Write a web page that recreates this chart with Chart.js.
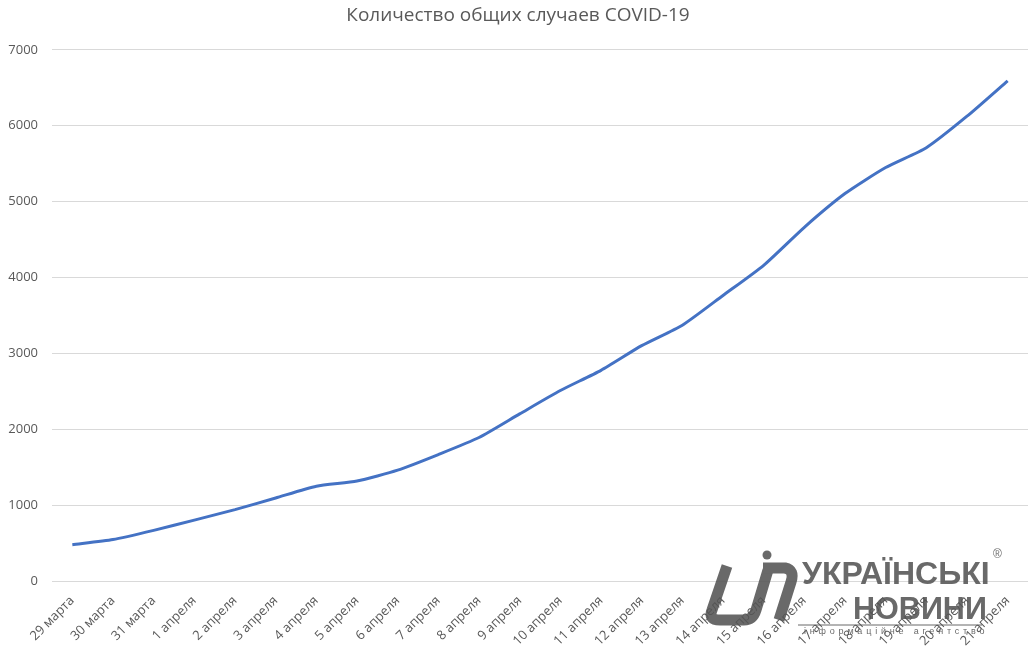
<!DOCTYPE html>
<html>
<head>
<meta charset="utf-8">
<script src="https://cdn.jsdelivr.net/npm/chart.js@4"></script>
<style>
  html, body { margin: 0; padding: 0; background: #fff; }
  #wrap { position: relative; width: 1032px; height: 654px; }
  #wm { position: absolute; left: 0; top: 0; width: 1032px; height: 654px; pointer-events: none; opacity: 0.88; }
  .wmt { position: absolute; color: #555; font-family: "Liberation Sans", Arial, sans-serif; font-weight: bold; transform-origin: left top; white-space: nowrap; }
</style>
</head>
<body>
<div id="wrap">
  <canvas id="lineChart" width="1032" height="654"></canvas>
  <div id="wm">
    <svg width="1032" height="654" style="position:absolute;left:0;top:0">
      <!-- логотип -->
      <path d="M727 566 L712 610 Q708 620 720 620 L744 620 Q753 620 756 610 L768 570" fill="none" stroke="#555" stroke-width="11" stroke-linejoin="round"/>
      <path d="M763 568 L785 568 Q795 570 791 582 L779 620" fill="none" stroke="#555" stroke-width="11" stroke-linejoin="round"/>
      <circle cx="767" cy="555" r="4.5" fill="#555"/>
      <line x1="798" y1="625" x2="982" y2="625" stroke="#555" stroke-width="1"/>
    </svg>
    <div class="wmt" style="left:802px;top:555px;font-size:32px">УКРАЇНСЬКІ</div>
    <div class="wmt" style="left:853px;top:590px;font-size:32px;transform:scaleX(0.955)">НОВИНИ</div>
    <div class="wmt" style="left:993px;top:547px;font-size:12px;font-weight:normal">®</div>
    <div class="wmt" style="left:804px;top:626px;font-size:9px;font-weight:normal;letter-spacing:3.8px">інформаційне агентство</div>
  </div>
</div>
<script>
// Данные: общее число случаев COVID-19
const dates = ["29 марта", "30 марта", "31 марта", "1 апреля", "2 апреля", "3 апреля", "4 апреля",
  "5 апреля", "6 апреля", "7 апреля", "8 апреля", "9 апреля", "10 апреля", "11 апреля", "12 апреля",
  "13 апреля", "14 апреля", "15 апреля", "16 апреля", "17 апреля", "18 апреля", "19 апреля",
  "20 апреля", "21 апреля"];
const totalCases = [480, 548, 669, 804, 942, 1096, 1251, 1319, 1462, 1668, 1892, 2203, 2511, 2777,
  3102, 3372, 3764, 4161, 4662, 5106, 5449, 5710, 6125, 6592];
const yTicks = [0, 1000, 2000, 3000, 4000, 5000, 6000, 7000];

const ctx = document.getElementById("lineChart").getContext("2d");
new Chart(ctx, {
  type: "line",
  data: {
    labels: dates,
    datasets: [{
      label: "Количество общих случаев",
      data: totalCases,
      borderColor: "#4472C4",
      borderWidth: 3,
      pointRadius: 0,
      tension: 0.2,
      fill: false
    }]
  },
  options: {
    responsive: false,
    animation: false,
    layout: { padding: { left: 8, right: 4, top: 0, bottom: 1 } },
    plugins: {
      legend: { display: false },
      tooltip: { enabled: false },
      title: {
        display: true,
        text: "Количество общих случаев COVID-19",
        color: "#595959",
        font: { family: "Open Sans", size: 19, weight: "normal" },
        padding: { top: 4, bottom: 23 }
      }
    },
    scales: {
      x: {
        offset: true,
        grid: { display: false },
        border: { display: false },
        afterFit: scale => { scale.paddingLeft = 0; scale.paddingRight = 0; },
        ticks: {
          color: "#595959",
          font: { family: "Open Sans", size: 13 },
          maxRotation: 45,
          minRotation: 45,
          autoSkip: false,
          padding: 4
        }
      },
      y: {
        min: 0,
        max: 7000,
        afterBuildTicks: axis => { axis.ticks = yTicks.map(v => ({ value: v })); },
        afterFit: scale => { scale.width = 44; },
        grid: { color: "#d9d9d9", lineWidth: 1, drawTicks: false },
        border: { display: false },
        ticks: {
          color: "#595959",
          font: { family: "Open Sans", size: 13 },
          padding: 14,
          callback: v => String(v)
        }
      }
    }
  }
});
</script>
</body>
</html>
